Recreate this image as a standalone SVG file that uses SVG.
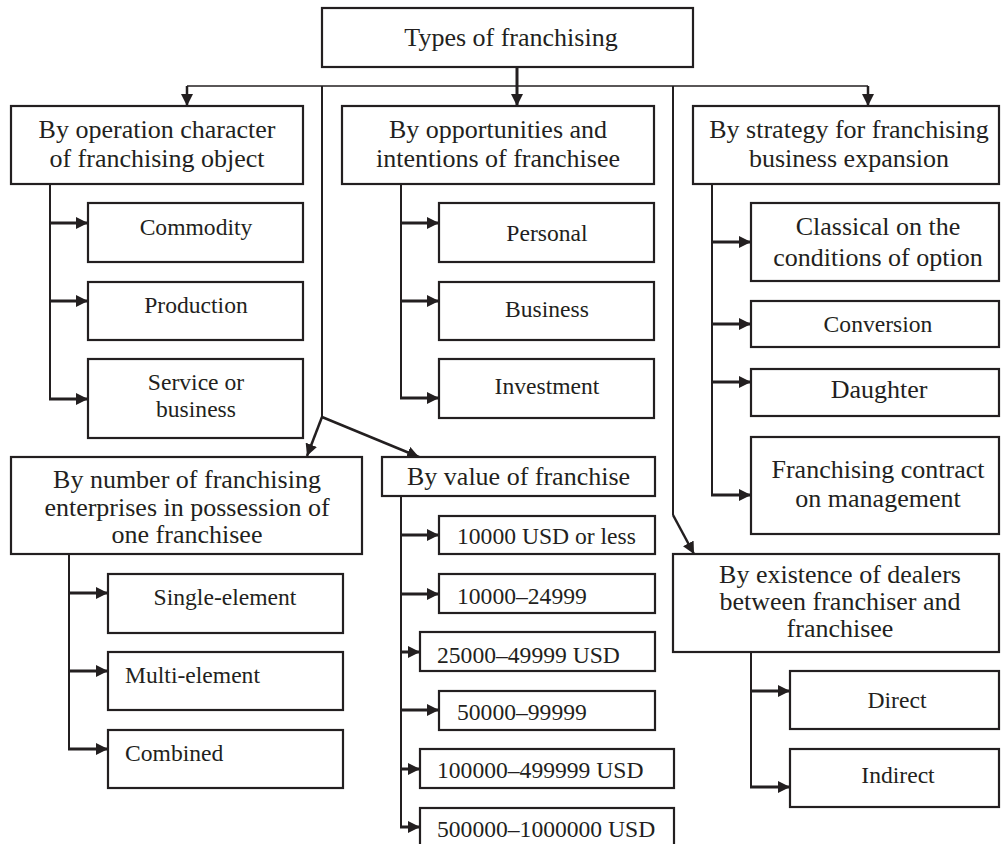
<svg xmlns="http://www.w3.org/2000/svg" width="1001" height="844" viewBox="0 0 1001 844">
<defs>
<marker id="ah" markerUnits="userSpaceOnUse" markerWidth="13" markerHeight="12" refX="12" refY="6" orient="auto">
<path d="M0,0 L12,6 L0,12 z" fill="#231f20"/>
</marker>
<style>
rect{fill:#fff;stroke:#231f20;stroke-width:2.2}
text{font-family:"Liberation Serif","Times New Roman",serif;fill:#231f20;font-size:23.6px}
.h{font-size:26px}
.c{text-anchor:middle}
.ln{stroke:#231f20;stroke-width:2;fill:none}
.ar{stroke:#231f20;stroke-width:3;fill:none;marker-end:url(#ah)}
.ad{stroke:#231f20;stroke-width:2.5;fill:none;marker-end:url(#ah)}
</style>
</defs>
<rect x="0" y="0" width="1001" height="844" style="fill:#fff;stroke:none"/>
<g id="connectors">
<path class="ln" d="M187,86 H868" style="stroke-width:1.6"/>
<path class="ad" d="M187,86 V106"/>
<path class="ad" d="M868,86 V106"/>
<path class="ar" d="M517,67 V106"/>
<path class="ln" d="M322,86 V417"/>
<path class="ln" d="M673,86 V515"/>
<path class="ad" d="M322,417 L307,456"/>
<path class="ad" d="M322,417 L419,457"/>
<path class="ad" d="M673,515 L694,554"/>
<path class="ln" d="M50,184 V399"/>
<path class="ar" d="M49,223 H88"/>
<path class="ar" d="M49,301 H88"/>
<path class="ar" d="M49,399 H88"/>
<path class="ln" d="M401,184 V398"/>
<path class="ar" d="M400,223 H439"/>
<path class="ar" d="M400,301 H439"/>
<path class="ar" d="M400,398 H439"/>
<path class="ln" d="M712,184 V495"/>
<path class="ar" d="M711,242 H751"/>
<path class="ar" d="M711,324 H751"/>
<path class="ar" d="M711,382 H751"/>
<path class="ar" d="M711,495 H751"/>
<path class="ln" d="M69,554 V749"/>
<path class="ar" d="M68,593 H108"/>
<path class="ar" d="M68,671 H108"/>
<path class="ar" d="M68,749 H108"/>
<path class="ln" d="M401,496 V828"/>
<path class="ar" d="M400,535 H439"/>
<path class="ar" d="M400,594 H439"/>
<path class="ar" d="M400,652 H420"/>
<path class="ar" d="M400,710 H439"/>
<path class="ar" d="M400,769 H420"/>
<path class="ar" d="M400,827 H420"/>
<path class="ln" d="M751,652 V787"/>
<path class="ar" d="M750,691 H790"/>
<path class="ar" d="M750,787 H790"/>
</g>
<g id="root"><rect x="322" y="8" width="371" height="59"/><text class="h c" x="511" y="46">Types of franchising</text></g>
<g id="operation"><rect x="11" y="106" width="292" height="78"/><text class="h c" x="157" y="138">By operation character</text><text class="h c" x="157" y="167">of franchising object</text></g>
<g id="opportunities"><rect x="342" y="106" width="312" height="78"/><text class="h c" x="498" y="138">By opportunities and</text><text class="h c" x="498" y="167">intentions of franchisee</text></g>
<g id="strategy"><rect x="693" y="106" width="306" height="78"/><text class="h c" x="849" y="138">By strategy for franchising</text><text class="h c" x="849" y="167">business expansion</text></g>
<g id="commodity"><rect x="88" y="203" width="215" height="59"/><text class="c" x="196" y="235">Commodity</text></g>
<g id="production"><rect x="88" y="282" width="215" height="58"/><text class="c" x="196" y="313">Production</text></g>
<g id="service"><rect x="88" y="359" width="215" height="79"/><text class="c" x="196" y="390">Service or</text><text class="c" x="196" y="417">business</text></g>
<g id="personal"><rect x="439" y="203" width="215" height="59"/><text class="c" x="547" y="241">Personal</text></g>
<g id="business"><rect x="439" y="282" width="215" height="58"/><text class="c" x="547" y="317">Business</text></g>
<g id="investment"><rect x="439" y="359" width="215" height="59"/><text class="c" x="547" y="394">Investment</text></g>
<g id="classical"><rect x="751" y="203" width="248" height="78"/><text class="h c" x="878" y="235">Classical on the</text><text class="h c" x="878" y="266">conditions of option</text></g>
<g id="conversion"><rect x="751" y="301" width="248" height="46"/><text class="c" x="878" y="332">Conversion</text></g>
<g id="daughter"><rect x="751" y="369" width="248" height="47"/><text class="h c" x="879" y="398">Daughter</text></g>
<g id="contract"><rect x="751" y="437" width="248" height="97"/><text class="h c" x="878" y="478">Franchising contract</text><text class="h c" x="878" y="507">on management</text></g>
<g id="number"><rect x="11" y="457" width="351" height="97"/><text class="h c" x="187" y="488">By number of franchising</text><text class="h c" x="187" y="516">enterprises in possession of</text><text class="h c" x="187" y="543">one franchisee</text></g>
<g id="single"><rect x="108" y="574" width="235" height="59"/><text class="c" x="225" y="605">Single-element</text></g>
<g id="multi"><rect x="108" y="652" width="235" height="58"/><text x="125" y="683">Multi-element</text></g>
<g id="combined"><rect x="108" y="730" width="235" height="58"/><text x="125" y="761">Combined</text></g>
<g id="value"><rect x="382" y="457" width="273" height="39"/><text class="h" x="407" y="485">By value of franchise</text></g>
<g id="v1"><rect x="439" y="516" width="216" height="38"/><text x="457" y="544">10000 USD or less</text></g>
<g id="v2"><rect x="439" y="574" width="216" height="39"/><text x="457" y="604">10000–24999</text></g>
<g id="v3"><rect x="420" y="632" width="235" height="39"/><text x="437" y="663">25000–49999 USD</text></g>
<g id="v4"><rect x="439" y="691" width="216" height="39"/><text x="457" y="720">50000–99999</text></g>
<g id="v5"><rect x="420" y="749" width="254" height="39"/><text x="437" y="778">100000–499999 USD</text></g>
<g id="v6"><rect x="420" y="808" width="254" height="40"/><text x="437" y="837">500000–1000000 USD</text></g>
<g id="dealers"><rect x="673" y="554" width="326" height="98"/><text class="h c" x="840" y="583">By existence of dealers</text><text class="h c" x="840" y="610">between franchiser and</text><text class="h c" x="840" y="637">franchisee</text></g>
<g id="direct"><rect x="790" y="671" width="209" height="58"/><text class="c" x="897" y="708">Direct</text></g>
<g id="indirect"><rect x="790" y="749" width="209" height="58"/><text class="c" x="898" y="783">Indirect</text></g>
</svg>
